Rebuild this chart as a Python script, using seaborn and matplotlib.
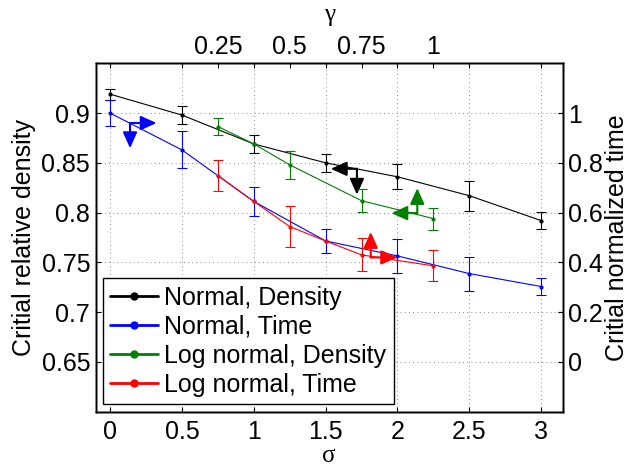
import numpy as np
import matplotlib
matplotlib.use("Agg")
import matplotlib.pyplot as plt
import seaborn as sns
from matplotlib.lines import Line2D

# normal distribution, plotted against sigma
sigma = [0, 0.5, 1, 1.5, 2, 2.5, 3]
normal_density = [0.919, 0.898, 0.869, 0.850, 0.836, 0.817, 0.792]
normal_density_err = [0.0055, 0.0092, 0.009, 0.009, 0.0127, 0.0152, 0.0082]
normal_time = [1.0, 0.852, 0.645, 0.486, 0.426, 0.355, 0.303]
normal_time_err = [0.052, 0.074, 0.058, 0.047, 0.067, 0.068, 0.036]

# log normal distribution, plotted against gamma
gamma_d = [0.25, 0.375, 0.5, 0.75, 1.0]
lognormal_density = [0.8865, 0.869, 0.848, 0.812, 0.794]
lognormal_density_err = [0.009, 0, 0.014, 0.0115, 0.011]
gamma_t = [0.25, 0.375, 0.5, 0.625, 0.75, 1.0]
lognormal_time = [0.749, 0.645, 0.544, 0.486, 0.430, 0.386]
lognormal_time_err = [0.064, 0, 0.084, 0, 0.066, 0.062]

sigma_ticks = [0, 0.5, 1, 1.5, 2, 2.5, 3]
gamma_ticks = [0.25, 0.5, 0.75, 1]
density_ticks = [0.65, 0.7, 0.75, 0.8, 0.85, 0.9]
time_ticks = [0, 0.2, 0.4, 0.6, 0.8, 1]

labels = ["Normal, Density", "Normal, Time", "Log normal, Density", "Log normal, Time"]
colors = ["black", "#0000ff", "#008000", "#ff0000"]

# axis conversions (gamma <-> sigma, time <-> density)
sigma_lim = (-0.1, 3.15)
density_lim = (0.6, 0.95)
gamma_lim = tuple((s - 0.25) / 2 for s in sigma_lim)
time_lim = tuple((d - 0.65) / 0.25 for d in density_lim)

sns.set_theme(style="white")
plt.rcParams["font.family"] = ["Liberation Sans", "DejaVu Sans"]
plt.rcParams.update({
    "text.color": "black", "axes.labelcolor": "black",
    "xtick.color": "black", "ytick.color": "black",
    "axes.edgecolor": "black", "axes.linewidth": 1.0,
    "xtick.direction": "in", "ytick.direction": "in",
    "xtick.major.size": 3.5, "ytick.major.size": 3.5,
    "xtick.major.width": 0.8, "ytick.major.width": 0.8,
})
FS = 18

fig = plt.figure(figsize=(6.3, 4.69), dpi=100)
rect = [95.7 / 630, 1 - 411.7 / 469, 467 / 630, 348.4 / 469]
ax = fig.add_axes(rect)
ax_t = ax.twinx()
ax_g = ax.twiny()
ax_gt = fig.add_axes(rect)
ax_gt.set_axis_off()
ax_gt.patch.set_visible(False)

series = [
    (ax, sigma, normal_density, normal_density_err),
    (ax_t, sigma, normal_time, normal_time_err),
    (ax_g, gamma_d, lognormal_density, lognormal_density_err),
    (ax_gt, gamma_t, lognormal_time, lognormal_time_err),
]
for (a, x, y, e), c in zip(series, colors):
    sns.lineplot(x=x, y=y, ax=a, color=c, lw=0.8, marker="o", markersize=3,
                 markeredgewidth=0, sort=False, errorbar=None)
    x, y, e = np.array(x), np.array(y), np.array(e)
    m = e > 0
    a.errorbar(x[m], y[m], yerr=e[m], fmt="none", ecolor=c, elinewidth=0.8,
               capsize=3.3, capthick=0.8)

ax.set_xlim(sigma_lim)
ax.set_ylim(density_lim)
ax_t.set_ylim(time_lim)
ax_g.set_xlim(gamma_lim)
ax_gt.set_xlim(gamma_lim)
ax_gt.set_ylim(time_lim)

ax.set_xticks(sigma_ticks, labels=[f"{v:g}" for v in sigma_ticks])
ax.set_yticks(density_ticks, labels=[f"{v:g}" for v in density_ticks])
ax_t.set_yticks(time_ticks, labels=[f"{v:g}" for v in time_ticks])
ax_g.set_xticks(gamma_ticks, labels=[f"{v:g}" for v in gamma_ticks])

ax.tick_params(labelsize=FS, top=True, right=True, pad=6)
ax.tick_params(axis="y", pad=4)
ax_t.tick_params(labelsize=FS, pad=4)
ax_g.tick_params(labelsize=FS, pad=3)
ax_g.tick_params(axis="y", left=False, right=False, labelleft=False)

ax.grid(True, color="0.35", linestyle=(0, (1, 4)), linewidth=0.6)

ax.set_xlabel("σ", fontsize=FS, family=["Liberation Serif", "DejaVu Serif"], labelpad=1)
ax_g.set_xlabel("γ", fontsize=FS, family=["Liberation Serif", "DejaVu Serif"], labelpad=10)
ax.set_ylabel("Critial relative density", fontsize=FS, labelpad=4)
ax_t.set_ylabel("Critial normalized time", fontsize=FS, labelpad=1)

# arrows pointing to the axes each series uses
arrow_style = dict(arrowstyle="-|>,head_length=0.6,head_width=0.27", lw=1.5,
                   shrinkA=0, shrinkB=0, mutation_scale=16)
arrows = [
    (ax, "black", (1.718, 0.844), [(1.536, 0.844), (1.718, 0.818)]),
    (ax_t, "#0000ff", (0.139, 0.960), [(0.324, 0.960), (0.139, 0.859)]),
    (ax_g, "#008000", (0.944, 0.7995), [(0.854, 0.7995), (0.944, 0.8246)]),
    (ax_gt, "#ff0000", (0.782, 0.420), [(0.874, 0.420), (0.782, 0.522)]),
]
for a, c, corner, tips in arrows:
    for tip in tips:
        a.annotate("", xy=tip, xytext=corner,
                   arrowprops=dict(color=c, **arrow_style))

handles = [Line2D([], [], color=c, lw=2, marker="o", markersize=5) for c in colors]
leg = ax_gt.legend(handles, labels, loc="lower left", bbox_to_anchor=(0.0156, 0.022),
                   borderaxespad=0, fontsize=FS, frameon=True, fancybox=False,
                   framealpha=1, edgecolor="black", handlelength=1.9,
                   handletextpad=0.25, labelspacing=0.2, borderpad=0.3)
leg.get_frame().set_linewidth(1.0)

fig.savefig("out.png", dpi=100)
